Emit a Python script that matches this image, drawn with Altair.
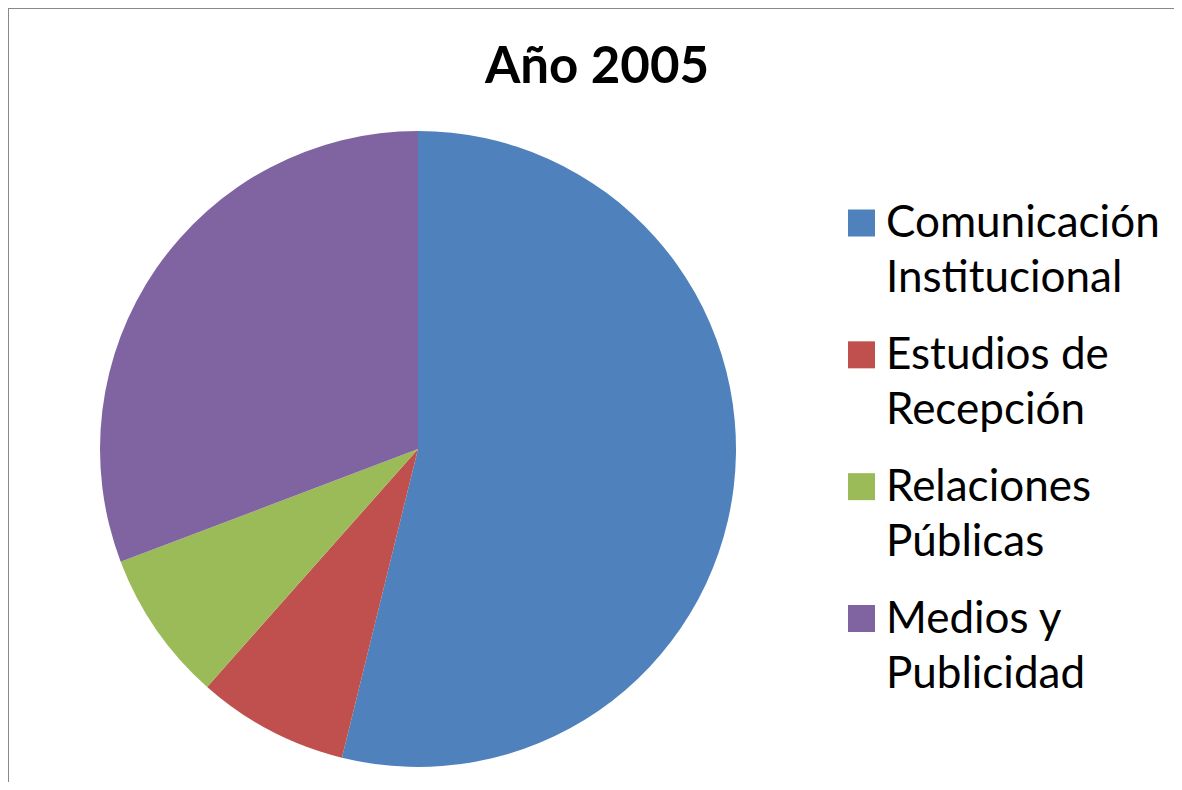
import altair as alt
import pandas as pd

categories = ["Comunicación\nInstitucional", "Estudios de\nRecepción", "Relaciones\nPúblicas", "Medios y\nPublicidad"]
values = [7, 1, 1, 4]
colors = ["#4F81BD", "#C0504D", "#9BBB59", "#8064A2"]
title_text = ["Año 2005"]

df = pd.DataFrame({"cat": categories, "val": values, "order": list(range(len(values)))})

FONT = "Lato"
color_scale = alt.Scale(domain=categories, range=colors)

pie = alt.Chart(df).mark_arc(radius=318, strokeWidth=0).encode(
    theta=alt.Theta("val:Q", stack=True),
    order=alt.Order("order:Q"),
    color=alt.Color("cat:N", sort=categories, scale=color_scale, legend=None),
    x=alt.value(410),
    y=alt.value(341),
)

ypos = alt.Y("order:Q", axis=None, scale=alt.Scale(domain=[0, 3], range=[115, 510.5]))

leg_sq = alt.Chart(df).mark_square(size=729, opacity=1, strokeWidth=0).encode(
    x=alt.value(853.5),
    y=ypos,
    color=alt.Color("cat:N", sort=categories, scale=color_scale, legend=None),
)

leg_txt = alt.Chart(df).transform_calculate(
    lines="split(datum.cat, '\\n')"
).mark_text(
    align="left", baseline="alphabetic", font=FONT, fontSize=44, lineHeight=55,
    color="#000000", dy=14,
).encode(
    x=alt.value(878),
    y=ypos,
    text="lines:N",
)

title_df = pd.DataFrame({"t": title_text})
title = alt.Chart(title_df).mark_text(
    align="center", baseline="alphabetic", font=FONT, fontSize=51, fontWeight="bold",
    color="#000000",
).encode(x=alt.value(589), y=alt.value(-25), text="t:N")

border_df = pd.DataFrame({"k": [0]})
top_rule = alt.Chart(border_df).mark_rule(color="#888888", strokeWidth=2).encode(
    x=alt.value(-1), x2=alt.value(1180), y=alt.value(-100)
)
left_rule = alt.Chart(border_df).mark_rule(color="#888888", strokeWidth=2).encode(
    x=alt.value(0), y=alt.value(-101), y2=alt.value(700)
)

chart = alt.layer(pie, leg_sq, leg_txt, title, top_rule, left_rule).properties(
    width=1166,
    height=674,
    background="white",
    padding={"left": 0, "top": 100, "right": 0, "bottom": 0},
    autosize=alt.AutoSizeParams(type="none"),
).configure_view(stroke="transparent", strokeWidth=0)

chart.save("out.html", embed_options={"renderer": "svg", "actions": False})
